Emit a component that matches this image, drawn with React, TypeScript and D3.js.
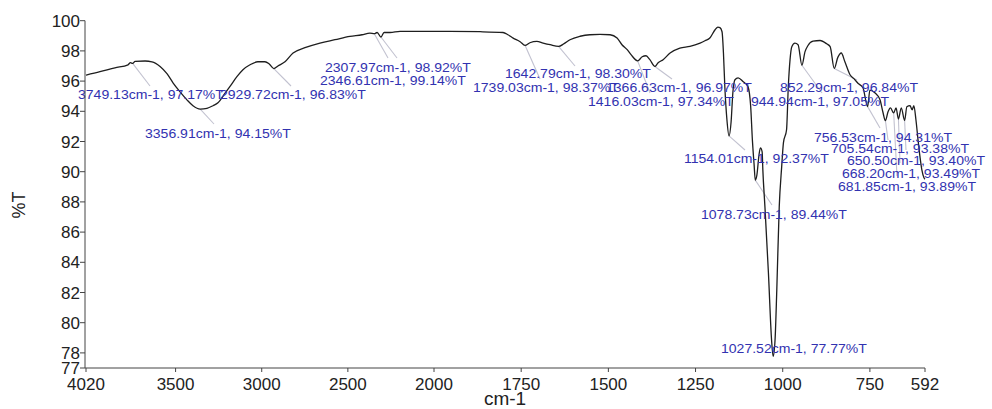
import React from 'react';
import * as d3 from 'd3';

const WIDTH = 992;
const HEIGHT = 409;

// FT-IR spectrum trace: wavenumber (cm-1) and transmittance (%T)
const wavenumbers = [
  4020, 3939, 3852, 3776, 3762, 3749.13, 3735, 3677, 3637, 3590, 3550, 3515, 3474, 3434, 3399,
  3356.91, 3318, 3283, 3254, 3219, 3184, 3144, 3109, 3068, 3022, 2981, 2958, 2929.72, 2906, 2865,
  2818, 2749, 2662, 2575, 2488, 2418, 2372, 2346.61, 2330, 2307.97, 2290, 2255, 2197, 2023, 1954,
  1868, 1802, 1788, 1773, 1753, 1739.03, 1725, 1705, 1687, 1667, 1642.79, 1627, 1610, 1581, 1553,
  1524, 1495, 1475, 1461, 1446, 1435, 1416.03, 1403, 1392, 1381, 1366.63, 1358, 1343, 1323, 1295,
  1266, 1237, 1223, 1209, 1194, 1186, 1180, 1174, 1170, 1166, 1160, 1154.01, 1148, 1143, 1137,
  1128, 1114, 1100, 1092, 1087, 1082, 1078.73, 1074, 1068, 1064, 1059, 1057, 1051, 1041, 1032,
  1027.52, 1022, 1017, 1010, 1003, 998, 989, 984, 979, 974, 965, 956, 944.94, 936, 928,
  913, 893, 874, 864, 852.29, 842, 832, 822, 807, 793, 785, 770, 756.53, 750, 736,
  721, 713, 705.54, 698, 691, 681.85, 675, 668.2, 660, 650.5, 644, 635, 629, 624, 618,
  612, 606, 601, 595, 592,
];
const transmittance = [
  96.4, 96.62, 96.88, 97.08, 97.22, 97.17, 97.3, 97.33, 97.28, 96.97, 96.49, 95.89, 95.29, 94.76, 94.37,
  94.15, 94.2, 94.37, 94.56, 95.1, 95.65, 96.29, 96.75, 97.08, 97.28, 97.28, 97.15, 96.83, 97.0, 97.28,
  97.86, 98.21, 98.52, 98.74, 98.96, 99.07, 99.18, 99.14, 99.22, 98.92, 99.22, 99.22, 99.29, 99.29, 99.29,
  99.27, 99.22, 99.07, 98.85, 98.61, 98.37, 98.54, 98.63, 98.52, 98.41, 98.3, 98.48, 98.74, 98.97, 99.07,
  99.09, 99.07, 98.85, 98.41, 98.08, 97.75, 97.34, 97.61, 97.68, 97.42, 96.97, 97.2, 97.42, 97.86, 98.19,
  98.3, 98.52, 98.67, 98.85, 99.4, 99.58, 99.54, 99.27, 97.88, 95.63, 93.44, 92.37, 93.31, 95.23, 96.09,
  96.22, 95.98, 95.65, 94.37, 92.11, 90.45, 89.44, 89.79, 91.12, 91.58, 91.32, 90.12, 87.67, 83.3, 78.86,
  77.77, 78.86, 82.17, 87.67, 90.32, 91.91, 92.78, 95.63, 97.42, 98.28, 98.52, 98.41, 97.05, 97.95, 98.34,
  98.64, 98.69, 98.47, 98.28, 96.84, 97.57, 97.86, 97.3, 96.42, 96.09, 95.87, 95.56, 94.31, 95.4, 95.23,
  94.76, 93.97, 93.38, 93.97, 94.23, 93.89, 94.23, 93.49, 94.23, 93.4, 94.3, 94.37, 94.1, 94.37, 93.44,
  92.11, 90.92, 90.12, 89.6, 89.5,
];

// Picked peaks
const peakWavenumbers = [
  3749.13, 3356.91, 2929.72, 2346.61, 2307.97, 1739.03, 1642.79, 1416.03, 1366.63, 1154.01,
  1078.73, 1027.52, 944.94, 852.29, 756.53, 705.54, 681.85, 668.2, 650.5,
];
const peakTransmittance = [
  97.17, 94.15, 96.83, 99.14, 98.92, 98.37, 98.3, 97.34, 96.97, 92.37,
  89.44, 77.77, 97.05, 96.84, 94.31, 93.38, 93.89, 93.49, 93.4,
];

const xTickValues = [4020, 3500, 3000, 2500, 2000, 1750, 1500, 1250, 1000, 750, 592];
const yTickValues = [77, 78, 80, 82, 84, 86, 88, 90, 92, 94, 96, 98, 100];

// Peak label placement: [text left, text baseline, leader end x, leader end y]
const labelLayout: [number, number, number | null, number | null][] = [
  [78, 98.5, 150, 86],
  [145, 137.5, 214, 124],
  [220, 98.5, 291, 86],
  [320, 84.5, 388, 58],
  [325, 71.5, 397, 58],
  [473, 92, 540, 79],
  [505, 78, 575, 66],
  [588, 105.5, 650, 93],
  [606, 92, 672, 79],
  [684, 162.5, 745, 150],
  [701, 218.5, 772, 205],
  [721, 352.5, null, null],
  [751, 105.5, 822, 93],
  [780, 92, 857, 80],
  [814, 141.5, 880, 128],
  [831, 152.5, 888, 140],
  [838, 190.5, 897, 176],
  [842, 177.5, 900, 163],
  [847, 164.5, 906, 150],
];

const FONT = '"Liberation Sans", Arial, Helvetica, sans-serif';

export default function App() {
  const x = d3.scaleLinear().domain([4020, 2000, 592]).range([86, 434, 925]);
  const y = d3.scaleLinear().domain([77, 100]).range([368, 20.7]);
  const axisX = 85;
  const axisY = 368;

  const line = d3
    .line<number>()
    .x((i) => x(wavenumbers[i]))
    .y((i) => y(transmittance[i]))
    .curve(d3.curveMonotoneX);
  const path = line(d3.range(wavenumbers.length)) || '';

  return (
    <svg
      width={WIDTH}
      height={HEIGHT}
      style={{ position: 'absolute', left: 0, top: 0, background: '#fff' }}
    >
      <rect width={WIDTH} height={HEIGHT} fill="#fff" />

      {/* leader lines */}
      <g stroke="#c2c2d0" strokeWidth={1.1}>
        {peakWavenumbers.map((w, i) => {
          const [, , lx, ly] = labelLayout[i];
          if (lx == null || ly == null) return null;
          return <line key={i} x1={x(w)} y1={y(peakTransmittance[i])} x2={lx} y2={ly} />;
        })}
      </g>

      {/* spectrum */}
      <path d={path} fill="none" stroke="#1e1e1e" strokeWidth={1.3} strokeLinejoin="round" />

      {/* peak labels */}
      <g fill="#3232b0" fontFamily={FONT} fontSize={13}>
        {peakWavenumbers.map((w, i) => {
          const [lx, ly] = labelLayout[i];
          return (
            <text key={i} transform={`translate(${lx},${ly}) scale(1.08,1)`}>
              {`${w.toFixed(2)}cm-1, ${peakTransmittance[i].toFixed(2)}%T`}
            </text>
          );
        })}
      </g>

      {/* y axis */}
      <g stroke="#444" strokeWidth={1}>
        <line x1={axisX} y1={y(100)} x2={axisX} y2={axisY} />
        {yTickValues.map((t) => (
          <line key={t} x1={axisX - 5} y1={y(t)} x2={axisX} y2={y(t)} />
        ))}
      </g>
      <g fill="#222" fontFamily={FONT} fontSize={17} textAnchor="end">
        {yTickValues.map((t) => (
          <text key={t} x={axisX - 5} y={y(t)} dy="0.36em">
            {t}
          </text>
        ))}
      </g>

      {/* x axis */}
      <g stroke="#444" strokeWidth={1}>
        <line x1={axisX} y1={axisY} x2={x(592)} y2={axisY} />
        {xTickValues.map((t) => (
          <line key={t} x1={x(t)} y1={axisY} x2={x(t)} y2={axisY + 4} />
        ))}
      </g>
      <g fill="#222" fontFamily={FONT} fontSize={17} textAnchor="middle">
        {xTickValues.map((t) => (
          <text key={t} x={x(t)} y={390}>
            {t}
          </text>
        ))}
      </g>

      {/* axis titles */}
      <text x={505} y={405} fontFamily={FONT} fontSize={19} textAnchor="middle" fill="#222">
        cm-1
      </text>
      <text
        transform="translate(25,205) rotate(-90)"
        fontFamily={FONT}
        fontSize={18}
        textAnchor="middle"
        fill="#222"
      >
        %T
      </text>
    </svg>
  );
}
